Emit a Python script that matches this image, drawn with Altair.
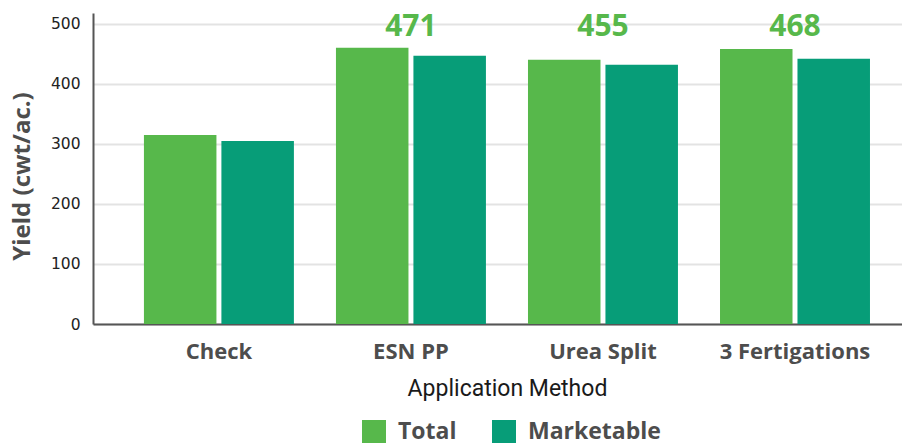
import altair as alt
import pandas as pd

categories = ["Check", "ESN PP", "Urea Split", "3 Fertigations"]
series = ["Total", "Marketable"]
total = [315, 460, 440, 458]
marketable = [305, 447, 432, 442]
labels = ["", "471", "455", "468"]
colors = ["#57b84b", "#079d78"]

rows = []
for c, t, m in zip(categories, total, marketable):
    rows.append({"Method": c, "Series": "Total", "Yield": t})
    rows.append({"Method": c, "Series": "Marketable", "Yield": m})
df = pd.DataFrame(rows)
lab = pd.DataFrame({"Method": categories, "Label": labels})

x_scale = alt.Scale(domain=categories, paddingInner=0.219, paddingOuter=0.216, align=0.614)
y_scale = alt.Scale(domain=[0, 518], nice=False)

bars = alt.Chart(df).mark_bar().encode(
    x=alt.X("Method:N", scale=x_scale, sort=categories,
            axis=alt.Axis(title="Application Method", labelAngle=0, ticks=False,
                          domainColor="#555555", domainWidth=2,
                          labelFont="Open Sans", labelFontWeight="bold", labelFontSize=22,
                          labelColor="#4d4d4d", labelPadding=17,
                          titleFont="Roboto", titleFontSize=23, titleFontWeight="normal",
                          titleColor="#1a1a1a", titleX=414, titleY=71,
                          titleBaseline="alphabetic", grid=False)),
    xOffset=alt.XOffset("Series:N", sort=series,
                        scale=alt.Scale(domain=series, paddingInner=0.064, paddingOuter=0)),
    y=alt.Y("Yield:Q", scale=y_scale,
            axis=alt.Axis(title="Yield (cwt/ac.)", values=[0, 100, 200, 300, 400, 500],
                          ticks=False, domainColor="#555555", domainWidth=2,
                          gridColor="#e3e3e3", gridWidth=2,
                          labelFont="DejaVu Sans", labelFontSize=15.5, labelColor="#222222",
                          labelPadding=13,
                          titleFont="Open Sans", titleFontWeight="bold", titleFontSize=24,
                          titleColor="#4d4d4d", titleX=-64, titleY=163,
                          titleBaseline="alphabetic", titleAlign="center")),
    color=alt.Color("Series:N", sort=series,
                    scale=alt.Scale(domain=series, range=colors),
                    legend=alt.Legend(title=None, orient="none", direction="horizontal",
                                      legendX=269, legendY=407,
                                      symbolType="square", symbolSize=576,
                                      symbolStrokeWidth=0, symbolOpacity=1,
                                      labelFont="Open Sans", labelFontWeight="bold",
                                      labelFontSize=23, labelColor="#4d4d4d",
                                      labelOffset=12, columnPadding=35, padding=0)),
)

text = alt.Chart(lab).mark_text(
    font="Open Sans", fontWeight="bold", fontSize=30, color="#57b84b", baseline="middle"
).encode(
    x=alt.X("Method:N", scale=x_scale, sort=categories),
    y=alt.datum(495),
    text="Label:N",
)

chart = alt.layer(bars, text).properties(
    width=809, height=311,
    padding={"left": 85, "top": 5, "right": 0, "bottom": 119},
    autosize=alt.AutoSizeParams(type="none"),
    background="white",
).configure_view(stroke=None)

chart.save("out.html", embed_options={"renderer": "svg", "actions": False})
